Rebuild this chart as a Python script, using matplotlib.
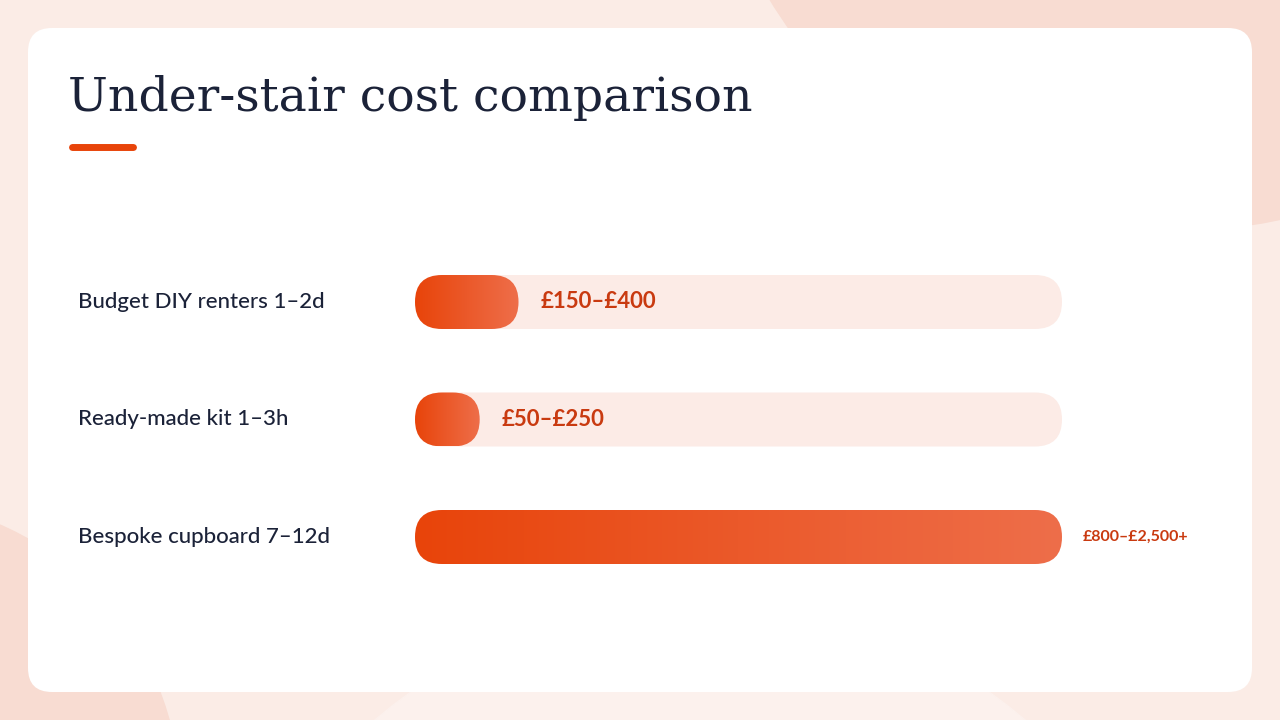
import matplotlib
matplotlib.use("Agg")
import matplotlib.pyplot as plt
import numpy as np
from matplotlib.patches import FancyBboxPatch, Circle, Rectangle
from matplotlib.colors import LinearSegmentedColormap

title = "Under-stair cost comparison"
categories = ["Budget DIY renters 1–2d", "Ready-made kit 1–3h", "Bespoke cupboard 7–12d"]
values = [400, 250, 2500]
value_labels = ["£150–£400", "£50–£250", "£800–£2,500+"]
max_value = 2500

fig = plt.figure(figsize=(12.8, 7.2), dpi=100)
fig.patch.set_facecolor("#fbece6")

# background pixel axes
bg = fig.add_axes([0, 0, 1, 1])
bg.set_xlim(0, 1280); bg.set_ylim(720, 0); bg.axis("off")
bg.add_patch(Circle((1180, -250), 480, color="#f8dcd2", zorder=0))
bg.add_patch(Circle((-120, 800), 300, color="#f8dcd2", zorder=0))
bg.add_patch(Circle((700, 1100), 500, color="#fcf1ed", zorder=0))
bg.add_patch(FancyBboxPatch((28, 28), 1224, 664, boxstyle="round,pad=0,rounding_size=24",
                            fc="white", ec="none", zorder=1))
bg.text(68, 98, title, fontsize=34, family="DejaVu Serif", color="#1b2238",
        va="center", ha="left", zorder=2)
bg.plot([72, 133], [147, 147], color="#e8440a", lw=5, solid_capstyle="round", zorder=2)

# bar axes: x 415..1062 px, y 250..590 px
W, H = 1280, 720
ax = fig.add_axes([415 / W, 1 - 590 / H, (1062 - 415) / W, 340 / H])
ax.set_xlim(0, max_value)
y_top, y_bot = -52 / 117.5, (590 - 302) / 117.5
ax.set_ylim(y_bot, y_top)
ax.axis("off")
xu_per_px = max_value / 647
yu_per_px = 1 / 117.5
bh = 54 * yu_per_px
r = 27 * xu_per_px
aspect = yu_per_px / xu_per_px

cmap = LinearSegmentedColormap.from_list("g", ["#e8440a", "#ee6e4a"])
grad = np.linspace(0, 1, 256).reshape(1, -1)

for i, (cat, v, lab) in enumerate(zip(categories, values, value_labels)):
    track = FancyBboxPatch((0, i - bh / 2), max_value, bh,
                           boxstyle=f"round,pad=0,rounding_size={r}",
                           mutation_aspect=aspect, fc="#fcebe6", ec="none")
    ax.add_patch(track)
    bar = FancyBboxPatch((0, i - bh / 2), v, bh,
                         boxstyle=f"round,pad=0,rounding_size={r}",
                         mutation_aspect=aspect, fc="none", ec="none")
    ax.add_patch(bar)
    im = ax.imshow(grad, cmap=cmap, aspect="auto",
                   extent=(0, v, i + bh / 2, i - bh / 2), zorder=2)
    im.set_clip_path(bar)
    ax.text(-337 * xu_per_px, i, cat, fontsize=16, family="Lato", fontweight="medium",
            color="#1b2238", va="center", ha="left")
    if v < max_value * 0.8:
        ax.text(v + 22 * xu_per_px, i, lab, fontsize=16, family="Lato", fontweight="bold",
                color="#c93a10", va="center", ha="left", zorder=3)
    else:
        ax.text(max_value + 21 * xu_per_px, i, lab, fontsize=11.5, family="Lato",
                fontweight="bold", color="#c93a10", va="center", ha="left", zorder=3)
ax.set_xlim(0, max_value); ax.set_ylim(y_bot, y_top)

fig.savefig("out.png", dpi=100, facecolor=fig.get_facecolor())
